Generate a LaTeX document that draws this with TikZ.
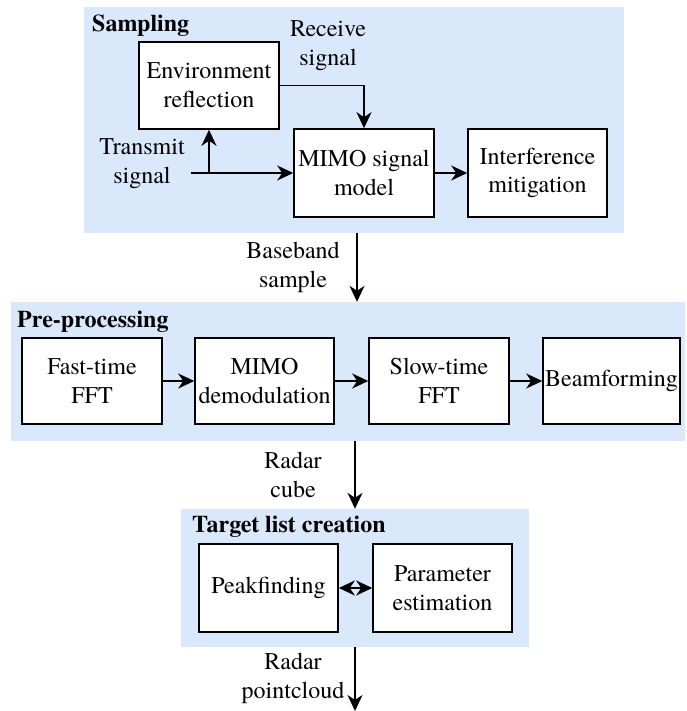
\documentclass[tikz,border=0pt]{standalone}
\usepackage{fontspec}
\setmainfont{texgyretermes}[Extension=.otf, UprightFont=*-regular, BoldFont=*-bold, ItalicFont=*-italic, BoldItalicFont=*-bolditalic]
\usetikzlibrary{arrows.meta}
\definecolor{panelblue}{HTML}{DAE8FC}
\begin{document}
\begin{tikzpicture}[x=1pt,y=-1pt,
  font=\fontsize{24}{28.8}\selectfont,
  panel/.style={fill=panelblue, draw=none, inner sep=0pt},
  box/.style={draw, fill=white, line width=1.6pt, align=center, inner sep=0pt},
  lbl/.style={align=center, inner sep=0pt},
  ttl/.style={anchor=base west, inner sep=0pt, font=\fontsize{24}{28.8}\selectfont\bfseries},
  arr/.style={line width=1.6pt, -{Stealth[length=16pt,width=15pt,inset=5pt]}},
  darr/.style={line width=1.6pt, {Stealth[length=16pt,width=15pt,inset=5pt]}-{Stealth[length=16pt,width=15pt,inset=5pt]}}
]
\useasboundingbox (0,0) rectangle (686,711);

% panels
\node[panel, minimum width=540pt, minimum height=226pt] (samp) at (354,120) {};
\node[panel, minimum width=674pt, minimum height=139pt] (pre) at (348,371.5) {};
\node[panel, minimum width=348pt, minimum height=138pt] (tgt) at (355,578) {};

% titles
\node[ttl] (tsamp) at (92,32) {Sampling};
\node[ttl] (tpre) at (17,327) {Pre-processing};
\node[ttl] (ttgt) at (192,532) {Target list creation};

% sampling boxes
\node[box, minimum width=140pt, minimum height=87pt] (env) at (209,85.5) {Environment\\reflection};
\node[box, minimum width=140pt, minimum height=88pt] (mimo) at (364,173) {MIMO signal\\model};
\node[box, minimum width=139pt, minimum height=88pt] (intf) at (537.5,173) {Interference\\mitigation};

% pre-processing boxes
\node[box, minimum width=140pt, minimum height=86pt] (ff) at (92,381) {Fast-time\\FFT};
\node[box, minimum width=139pt, minimum height=86pt] (demod) at (264.5,381) {MIMO\\demodulation};
\node[box, minimum width=140pt, minimum height=86pt] (slow) at (439,381) {Slow-time\\FFT};
\node[box, minimum width=137pt, minimum height=86pt] (beam) at (611.5,381) {Beamforming};

% target list boxes
\node[box, minimum width=139pt, minimum height=88pt] (peak) at (268.5,588) {Peakfinding};
\node[box, minimum width=139pt, minimum height=88pt] (param) at (442.5,588) {Parameter\\estimation};

% labels
\node[lbl] (lrx) at (328,46) {Receive\\signal};
\node[lbl] (ltx) at (142,164) {Transmit\\signal};
\node[lbl] (lbb) at (293,267.5) {Baseband\\sample};
\node[lbl] (lrc) at (293,475) {Radar\\cube};
\node[lbl] (lpc) at (293,678) {Radar\\pointcloud};

% helper coordinates
\coordinate (tx) at (191,173);
\coordinate (bbx) at (357,0);
\coordinate (rcx) at (355,0);
\coordinate (pcend) at (355,711);

% sampling connectors
\draw[arr] (tx) -- (mimo.west);
\draw[arr] (env.south |- tx) -- (env.south);
\draw[arr] (env.east) -| (mimo.north);
\draw[arr] (mimo.east) -- (intf.west);

% inter-panel connectors
\draw[arr] (samp.south -| bbx) -- (pre.north -| bbx);
\draw[arr] (pre.south -| rcx) -- (tgt.north -| rcx);
\draw[arr] (tgt.south -| rcx) -- (pcend);

% pre-processing connectors
\draw[arr] (ff.east) -- (demod.west);
\draw[arr] (demod.east) -- (slow.west);
\draw[arr] (slow.east) -- (beam.west);

% target list connector
\draw[darr] (peak.east) -- (param.west);
\end{tikzpicture}
\end{document}
